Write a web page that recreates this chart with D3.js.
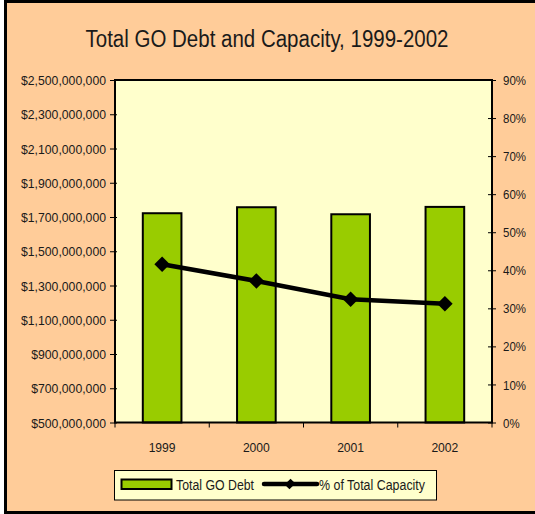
<!DOCTYPE html>
<html><head><meta charset="utf-8">
<script src="https://cdn.jsdelivr.net/npm/d3@7"></script>
<style>
html,body{margin:0;padding:0;background:#fff;}
svg{display:block;}
text{font-family:"Liberation Sans Narrow","Arial Narrow","Liberation Sans",Arial,sans-serif;fill:#1a1a1a;}
</style></head>
<body>
<script>
const years = ["1999", "2000", "2001", "2002"];
const debt = [1722000000, 1757000000, 1716000000, 1759000000];
const pctCapacity = [41.6, 37.2, 32.4, 31.2];
const leftTicks = [500e6, 700e6, 900e6, 1100e6, 1300e6, 1500e6, 1700e6, 1900e6, 2100e6, 2300e6, 2500e6];
const rightTicks = [0, 10, 20, 30, 40, 50, 60, 70, 80, 90];
const seriesNames = ["Total GO Debt", "% of Total Capacity"];
const title = "Total GO Debt and Capacity, 1999-2002";

const W = 535, H = 514;
const svg = d3.select("body").append("svg").attr("width", W).attr("height", H);

function condense(sel, k) {
  sel.each(function () {
    const w = this.getComputedTextLength();
    d3.select(this).attr("textLength", w * k).attr("lengthAdjust", "spacingAndGlyphs");
  });
}

// outer chart frame
svg.append("rect").attr("x", 5.5).attr("y", 1.5).attr("width", 545).attr("height", 511)
  .attr("fill", "#FFCC99").attr("stroke", "#000").attr("stroke-width", 3);

svg.append("text").attr("x", 267).attr("y", 47).attr("text-anchor", "middle")
  .attr("font-size", 23).attr("textLength", 363).attr("lengthAdjust", "spacingAndGlyphs")
  .text(title);

const m = {l: 115, r: 492, t: 80, b: 422.5};
const x = d3.scaleBand().domain(years).range([m.l, m.r]).paddingInner(0.59).paddingOuter(0.295);
const xc = d3.scaleBand().domain(years).range([m.l, m.r]);
const yL = d3.scaleLinear().domain([500e6, 2500e6]).range([m.b, m.t]);
const yR = d3.scaleLinear().domain([0, 90]).range([m.b, m.t]);

svg.append("rect").attr("x", m.l).attr("y", m.t).attr("width", m.r - m.l).attr("height", m.b - m.t)
  .attr("fill", "#FFFFCC");

// bars
svg.append("g").selectAll("rect").data(years).join("rect")
  .attr("x", d => x(d)).attr("width", x.bandwidth())
  .attr("y", (d, i) => yL(debt[i])).attr("height", (d, i) => yL(500e6) - yL(debt[i]))
  .attr("fill", "#99CC00").attr("stroke", "#000").attr("stroke-width", 2);

// plot frame
svg.append("rect").attr("x", m.l).attr("y", m.t).attr("width", m.r - m.l).attr("height", m.b - m.t)
  .attr("fill", "none").attr("stroke", "#000").attr("stroke-width", 2);

const fmt = d => "$" + d3.format(",")(d);
// left axis
const gL = svg.append("g").attr("transform", `translate(${m.l},0)`)
  .call(d3.axisLeft(yL).tickValues(leftTicks).tickFormat(fmt).tickSize(5).tickSizeOuter(0).tickPadding(4));
gL.select(".domain").remove();
gL.selectAll(".tick line").attr("x2", -5).attr("x1", 2).attr("stroke", "#000").attr("stroke-width", 1);
gL.selectAll(".tick text").attr("font-size", 13.5).attr("fill", "#1a1a1a").style("font-family", null)
  .attr("dy", "0.34em");
{
  const w0 = gL.select(".tick:last-of-type text").node().getComputedTextLength();
  condense(gL.selectAll(".tick text"), 85 / w0);
}

// right axis
const gR = svg.append("g").attr("transform", `translate(${m.r},0)`)
  .call(d3.axisRight(yR).tickValues(rightTicks).tickFormat(d => d + "%").tickSize(4).tickSizeOuter(0).tickPadding(7));
gR.select(".domain").remove();
gR.selectAll(".tick line").attr("x1", -4).attr("x2", 4).attr("stroke", "#000");
gR.selectAll(".tick text").attr("font-size", 13.5).attr("fill", "#1a1a1a").style("font-family", null)
  .attr("dy", "0.34em");
{
  const w0 = gR.select(".tick:last-of-type text").node().getComputedTextLength();
  condense(gR.selectAll(".tick text"), 23 / w0);
}

// x axis
const gX = svg.append("g").attr("transform", `translate(0,${m.b})`)
  .call(d3.axisBottom(x).tickSize(0).tickPadding(20));
gX.select(".domain").remove();
gX.selectAll(".tick text").attr("font-size", 13.5).attr("fill", "#1a1a1a").style("font-family", null);
{
  const w0 = gX.select(".tick text").node().getComputedTextLength();
  condense(gX.selectAll(".tick text"), 27 / w0);
}
svg.append("g").selectAll("line").data(years.concat(["end"])).join("line")
  .attr("x1", (d, i) => i < years.length ? xc(d) : m.r).attr("x2", (d, i) => i < years.length ? xc(d) : m.r)
  .attr("y1", m.b).attr("y2", m.b + 5).attr("stroke", "#000");

// line series
const line = d3.line().x((d, i) => xc(years[i]) + xc.bandwidth() / 2).y(d => yR(d));
svg.append("path").datum(pctCapacity).attr("d", line).attr("fill", "none")
  .attr("stroke", "#000").attr("stroke-width", 4.5);
const marker = d3.symbol().type(d3.symbolSquare).size(120);
svg.append("g").selectAll("path").data(pctCapacity).join("path")
  .attr("transform", (d, i) => `translate(${xc(years[i]) + xc.bandwidth() / 2},${yR(d)}) rotate(45)`)
  .attr("d", marker).attr("fill", "#000");

// legend
const lg = svg.append("g");
lg.append("rect").attr("x", 114.5).attr("y", 470.5).attr("width", 322).attr("height", 29.5)
  .attr("fill", "#FFFFCC").attr("stroke", "#000").attr("stroke-width", 1);
lg.append("rect").attr("x", 121.5).attr("y", 479.5).attr("width", 50).attr("height", 9.5)
  .attr("fill", "#99CC00").attr("stroke", "#000").attr("stroke-width", 2);
lg.append("text").attr("x", 176).attr("y", 489.5).attr("font-size", 14)
  .attr("textLength", 78).attr("lengthAdjust", "spacingAndGlyphs").text(seriesNames[0]);
lg.append("line").attr("x1", 264).attr("x2", 317).attr("y1", 484).attr("y2", 484)
  .attr("stroke", "#000").attr("stroke-width", 4.5).attr("stroke-linecap", "round");
lg.append("path").attr("transform", "translate(290,484) rotate(45) scale(0.85,1.05)")
  .attr("d", d3.symbol().type(d3.symbolSquare).size(64)).attr("fill", "#000");
lg.append("text").attr("x", 319).attr("y", 489.5).attr("font-size", 14)
  .attr("textLength", 106).attr("lengthAdjust", "spacingAndGlyphs").text(seriesNames[1]);
</script>
</body></html>
